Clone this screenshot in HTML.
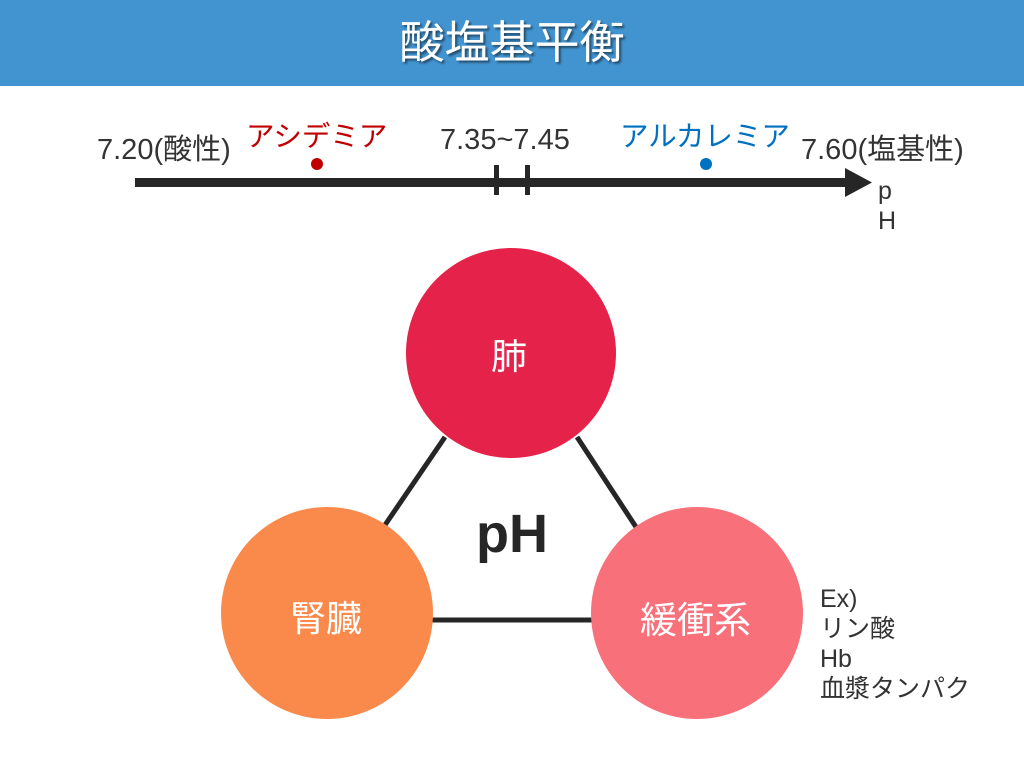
<!DOCTYPE html>
<html><head><meta charset="utf-8"><style>
body{margin:0;width:1024px;height:768px;background:#fff;position:relative;overflow:hidden;font-family:"Liberation Sans","Noto Sans CJK JP",sans-serif;}
.hdr{position:absolute;left:0;top:0;width:1024px;height:86px;background:#4294D0;color:#fff;font-size:45px;text-align:center;line-height:86px;text-shadow:2px 2px 2px rgba(0,0,0,0.5);}
.t{position:absolute;white-space:nowrap;font-size:28px;color:#333;}
</style></head><body>
<div class="hdr">酸塩基平衡</div>
<svg width="1024" height="768" style="position:absolute;left:0;top:0">
<rect x="135" y="178" width="712" height="9" fill="#262626"/>
<polygon points="845,168 872,182.5 845,197" fill="#262626"/>
<rect x="494" y="165" width="5" height="30" fill="#262626"/>
<rect x="525" y="165" width="5" height="30" fill="#262626"/>
<circle cx="317" cy="164" r="6" fill="#C00000"/>
<circle cx="706" cy="164" r="6" fill="#0070C0"/>
<g stroke="#262626" stroke-width="5">
<line x1="445" y1="437" x2="385" y2="525"/>
<line x1="577" y1="437" x2="636" y2="527"/>
<line x1="430" y1="620" x2="594" y2="620"/>
</g>
<circle cx="511" cy="353" r="105" fill="#E5224A"/>
<circle cx="327" cy="613" r="106" fill="#F98A4B"/>
<circle cx="697" cy="613" r="106" fill="#F8707A"/>
</svg>
<div class="t" style="left:97px;top:126px;font-size:29px">7.20(酸性)</div>
<div class="t" style="left:246px;top:114px;color:#C00000;font-size:28.5px">アシデミア</div>
<div class="t" style="left:440px;top:124px;font-size:29px">7.35~7.45</div>
<div class="t" style="left:620px;top:114px;color:#0070C0;font-size:28.5px">アルカレミア</div>
<div class="t" style="left:801px;top:126px;font-size:29px">7.60(塩基性)</div>
<div class="t" style="left:878px;top:176px;font-size:25px;line-height:30px">p<br>H</div>
<div class="t" style="left:491px;top:328px;font-size:36px;color:#fff">肺</div>
<div class="t" style="left:290px;top:590px;font-size:36px;color:#fff">腎臓</div>
<div class="t" style="left:640px;top:590px;font-size:37px;color:#fff">緩衝系</div>
<div class="t" style="left:476px;top:503px;font-size:54px;font-weight:bold;color:#262626">pH</div>
<div class="t" style="left:820px;top:584px;font-size:25px;line-height:30px">Ex)<br>リン酸<br>Hb<br>血漿タンパク</div>
</body></html>
